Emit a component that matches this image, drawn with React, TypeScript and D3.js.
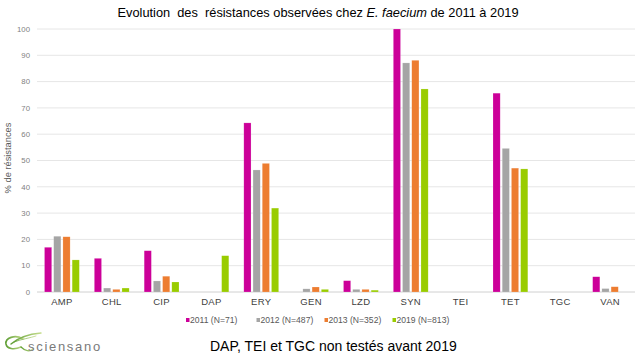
import React from 'react';
import * as d3 from 'd3';

const categories = ['AMP', 'CHL', 'CIP', 'DAP', 'ERY', 'GEN', 'LZD', 'SYN', 'TEI', 'TET', 'TGC', 'VAN'];
const seriesNames = ['2011 (N=71)', '2012 (N=487)', '2013 (N=352)', '2019 (N=813)'];
const seriesColors = ['#cc0099', '#a5a5a5', '#ed7d31', '#99cc00'];

// % resistance per category, one array per year (null = not tested)
const values2011 = [17, 12.8, 15.7, null, 64.3, null, 4.3, 100, null, 75.6, null, 5.8];
const values2012 = [21.2, 1.5, 4.2, null, 46.4, 1.2, 1, 87.1, null, 54.6, null, 1.3];
const values2013 = [21, 1, 6, null, 48.9, 1.9, 1, 88.1, null, 47.1, null, 2];
const values2019 = [12.2, 1.5, 3.8, 13.8, 31.9, 1, 0.7, 77.2, null, 46.8, null, null];
const yTicks = [0, 10, 20, 30, 40, 50, 60, 70, 80, 90, 100];

const W = 639;
const H = 361;
const font = 'Arial, "Liberation Sans", sans-serif';

export default function App() {
  const allSeries = [values2011, values2012, values2013, values2019];

  const x = d3.scaleBand<string>().domain(categories).range([37, 635]);
  const xs = d3.scaleBand<string>()
    .domain(seriesNames)
    .range([7.5, x.bandwidth() - 7.5])
    .paddingInner(0.22);
  const y = d3.scaleLinear().domain([0, 100]).range([292, 29]);

  // legend positions
  const legendX = [186, 256.5, 324.5, 392.5];

  return (
    <svg width={W} height={H} style={{ position: 'absolute', left: 0, top: 0, background: '#fff' }}>
      <defs>
        <linearGradient id="leaf" x1="0" x2="1" y1="0" y2="0">
          <stop offset="0" stopColor="#5f9e35" />
          <stop offset="1" stopColor="#c5dd8c" />
        </linearGradient>
      </defs>

      <text x={318} y={17} textAnchor="middle" fontFamily={font} fontSize={12.8} fill="#000" xmlSpace="preserve">
        Evolution  des  résistances observées chez <tspan fontStyle="italic">E. faecium</tspan> de 2011 à 2019
      </text>

      {/* grid */}
      {yTicks.map(t => (
        <g key={t}>
          <line x1={37} x2={635} y1={y(t)} y2={y(t)} stroke={t === 0 ? '#d0d0d0' : '#e6e6e6'} strokeWidth={1} />
          <text x={30} y={y(t)} dy="0.35em" textAnchor="end" fontFamily={font} fontSize={7.8} fill="#7f7f7f">{t}</text>
        </g>
      ))}

      <text transform={`translate(11,158) rotate(-90)`} textAnchor="middle" fontFamily={font} fontSize={9.3} fill="#595959">
        % de résistances
      </text>

      {/* bars */}
      {categories.map((c, i) => (
        <g key={c} transform={`translate(${x(c)},0)`}>
          {allSeries.map((s, j) => {
            const v = s[i];
            if (v == null) return null;
            return (
              <rect key={j}
                x={xs(seriesNames[j])}
                y={y(v)}
                width={xs.bandwidth()}
                height={y(0) - y(v)}
                fill={seriesColors[j]}
                stroke="#fff"
                strokeOpacity={0.35}
                strokeWidth={0.5} />
            );
          })}
          <text x={x.bandwidth() / 2} y={302} dy="0.35em" textAnchor="middle" fontFamily={font} fontSize={9.5} letterSpacing={0.3} fill="#404040">{c}</text>
        </g>
      ))}

      {/* legend */}
      {seriesNames.map((n, j) => (
        <g key={n} transform={`translate(${legendX[j]},320)`}>
          <rect x={0} y={-2} width={3.5} height={4} fill={seriesColors[j]} />
          <text x={4} y={0} dy="0.35em" fontFamily={font} fontSize={8.6} fill="#595959">{n}</text>
        </g>
      ))}

      {/* logo */}
      <g fill="none" stroke="url(#leaf)" strokeLinecap="round">
        <path d="M23,339 C15,334 5,338 6,344 C7,349 14,350 21,347" strokeWidth={1.6} />
        <path d="M11,344 C19,337 30,334 41,333" strokeWidth={1.4} />
        <path d="M21,347 C25,351 30,352 33,349" strokeWidth={1.3} />
        <path d="M14,342 C22,339 30,338 36,336" strokeWidth={0.8} />
      </g>
      <text x={28} y={351} fontFamily={font} fontSize={13} letterSpacing={1.7} fill="#7a7a7a">sciensano</text>

      <text x={210} y={351} fontFamily={font} fontSize={14} fill="#000">DAP, TEI et TGC non testés avant 2019</text>
    </svg>
  );
}
